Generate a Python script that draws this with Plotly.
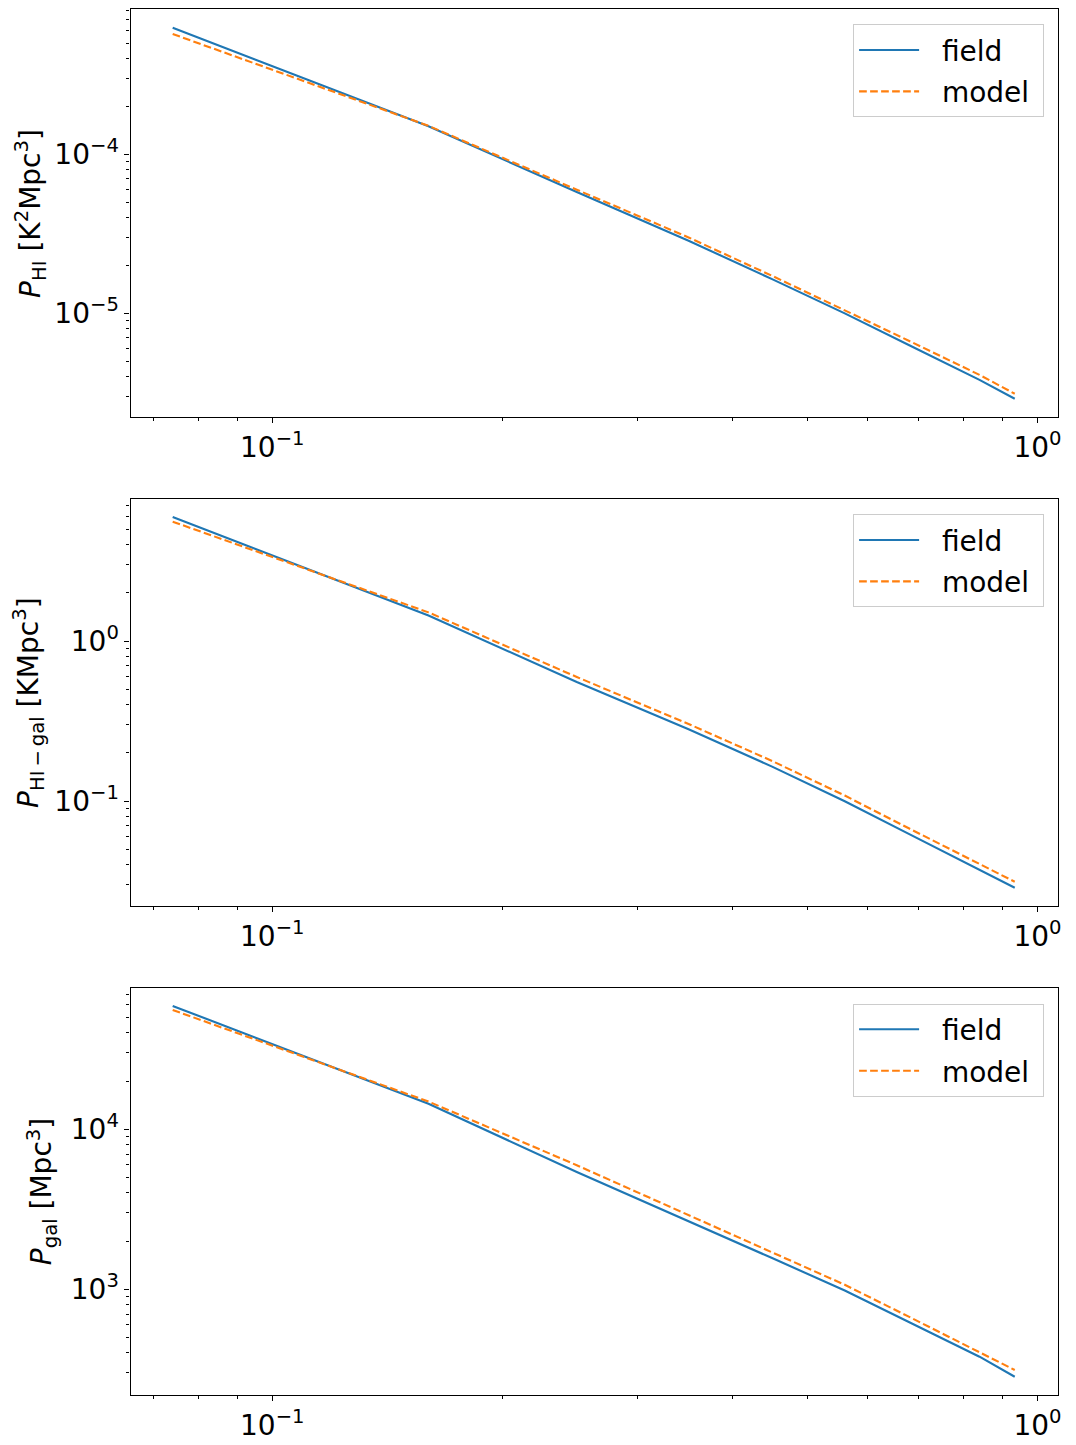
import numpy as np
import plotly.graph_objects as go

# ---------------- data ----------------
k = [0.0741, 0.10, 0.16, 0.25, 0.35, 0.45, 0.56, 0.68, 0.84, 0.934]

p_hi_field = [6.25e-4, 3.59e-4, 1.50e-4, 5.79e-5, 2.86e-5, 1.64e-5, 9.99e-6, 6.30e-6, 3.81e-6, 2.90e-6]
p_hi_model = [5.71e-4, 3.40e-4, 1.51e-4, 5.99e-5, 3.00e-5, 1.72e-5, 1.05e-5, 6.70e-6, 4.10e-6, 3.12e-6]

p_x_field = [5.96, 3.43, 1.443, 0.554, 0.281, 0.164, 0.0997, 0.0621, 0.0371, 0.0287]
p_x_model = [5.57, 3.35, 1.51, 0.596, 0.303, 0.178, 0.1082, 0.0673, 0.0402, 0.0313]

p_gal_field = [5.90e4, 3.41e4, 1.443e4, 5.41e3, 2.677e3, 1.567e3, 9.83e2, 6.23e2, 3.79e2, 2.84e2]
p_gal_model = [5.567e4, 3.33e4, 1.49e4, 5.96e3, 2.91e3, 1.70e3, 1.067e3, 6.72e2, 4.07e2, 3.13e2]

series_names = ["field", "model"]
x_ticks = [0.1, 1.0]
x_ticktext = ["10<sup>\u22121</sup>", "10<sup>0</sup>"]
y_ticks = [[1e-5, 1e-4], [0.1, 1.0], [1e3, 1e4]]
y_ticktext = [["10<sup>\u22125</sup>", "10<sup>\u22124</sup>"],
              ["10<sup>\u22121</sup>", "10<sup>0</sup>"],
              ["10<sup>3</sup>", "10<sup>4</sup>"]]
y_titles = ["<i>P</i><sub>HI</sub> [K<sup>2</sup>Mpc<sup>3</sup>]",
            "<i>P</i><sub>HI\u2009\u2212\u2009gal</sub> [KMpc<sup>3</sup>]",
            "<i>P</i><sub>gal</sub> [Mpc<sup>3</sup>]"]

# ---------------- layout constants ----------------
W, H = 1076, 1445
FONT = "DejaVu Sans"
FS = 28
BLUE = "#1f77b4"
ORANGE = "#ff7f0e"
NB = "\u00a0"

x_dom = [131 / W, 1061.5 / W]
y_px = [(9, 417), (499, 906), (988.3, 1395.3)]
y_doms = [[1 - b / H, 1 - t / H] for t, b in y_px]
x_range = [-1.1853, 0.0263]
y_ranges = [[-5.6522, -3.0862], [-1.656, 0.8875], [2.3375, 4.881]]
title_x = [30, 28.5, 42.5]


def minor_vals(lo, hi):
    vals = []
    for d in range(int(np.floor(lo)) - 1, int(np.ceil(hi)) + 1):
        for m in range(2, 10):
            v = m * 10.0 ** d
            if lo <= np.log10(v) <= hi:
                vals.append(v)
    return vals


fig = go.Figure()
panels = [(p_hi_field, p_hi_model), (p_x_field, p_x_model), (p_gal_field, p_gal_model)]
for i, (f, m) in enumerate(panels):
    ax = "" if i == 0 else str(i + 1)
    leg = "legend" if i == 0 else "legend" + str(i + 1)
    fig.add_trace(go.Scatter(x=k, y=f, mode="lines",
                             name=NB * 2 + series_names[0] + NB,
                             line=dict(color=BLUE, width=2.1),
                             xaxis="x" + ax, yaxis="y" + ax, legend=leg,
                             legendgroup="f" + str(i)))
    fig.add_trace(go.Scatter(x=k, y=m, mode="lines",
                             name=NB * 2 + series_names[1] + NB,
                             line=dict(color=ORANGE, width=2.1, dash="7.7px,3.3px"),
                             xaxis="x" + ax, yaxis="y" + ax, legend=leg,
                             legendgroup="m" + str(i)))

layout = dict(width=W, height=H, margin=dict(l=0, r=0, t=0, b=0),
              paper_bgcolor="white", plot_bgcolor="white",
              font=dict(family=FONT, size=FS, color="black"))

common_axis = dict(type="log", showline=True, mirror=True, linecolor="black",
                   linewidth=1.1, showgrid=False, zeroline=False,
                   ticks="outside", ticklen=5, tickwidth=1.1, tickcolor="black",
                   tickfont=dict(family=FONT, size=FS, color="black"))

annotations = []
for i in range(3):
    ax = "" if i == 0 else str(i + 1)
    layout["xaxis" + ax] = dict(common_axis, domain=x_dom, range=x_range,
                                anchor="y" + ax, tickmode="array",
                                tickvals=x_ticks, ticktext=x_ticktext,
                                minor=dict(tickmode="array",
                                           tickvals=minor_vals(*x_range),
                                           ticks="outside", ticklen=3,
                                           tickwidth=0.9, tickcolor="black"))
    layout["yaxis" + ax] = dict(common_axis, domain=y_doms[i], range=y_ranges[i],
                                anchor="x" + ax, tickmode="array",
                                tickvals=y_ticks[i], ticktext=y_ticktext[i],
                                minor=dict(tickmode="array",
                                           tickvals=minor_vals(*y_ranges[i]),
                                           ticks="outside", ticklen=3,
                                           tickwidth=0.9, tickcolor="black"))
    t, b = y_px[i]
    leg = "legend" if i == 0 else "legend" + str(i + 1)
    layout[leg] = dict(x=1048 / W, xanchor="right",
                       y=1 - (t + 15.3) / H, yanchor="top",
                       bgcolor="rgba(255,255,255,0.8)", bordercolor="#cccccc",
                       borderwidth=1, font=dict(family=FONT, size=FS, color="black"),
                       itemwidth=60, tracegroupgap=2, traceorder="grouped")
    annotations.append(dict(text=y_titles[i], xref="paper", yref="paper",
                            x=title_x[i] / W, y=1 - (t + b) / 2 / H,
                            xanchor="center", yanchor="middle", textangle=-90,
                            showarrow=False,
                            font=dict(family=FONT, size=FS, color="black")))

layout["annotations"] = annotations
fig.update_layout(**layout)
fig.write_html("out.html")
